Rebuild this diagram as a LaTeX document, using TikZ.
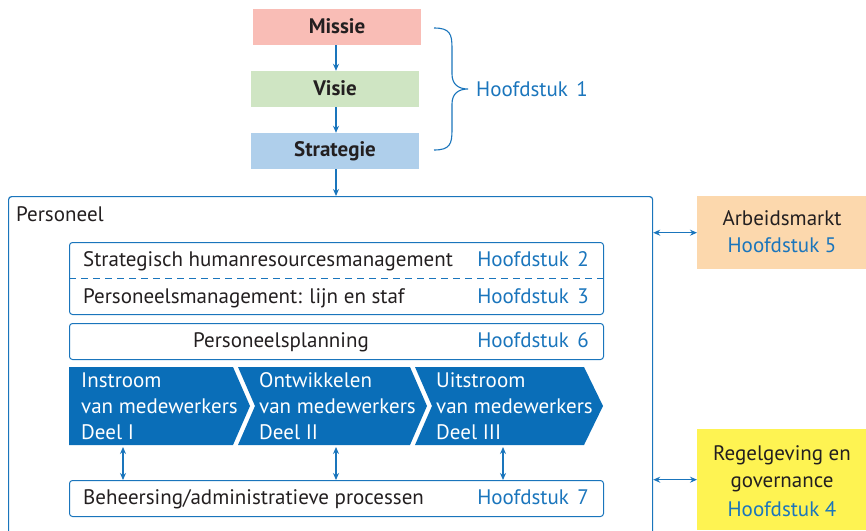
\documentclass[tikz,border=0pt]{standalone}
\usepackage{fontspec}
\setmainfont{PT Sans}
\usetikzlibrary{arrows.meta}
\definecolor{lineblue}{HTML}{1A75BC}
\definecolor{chevblue}{HTML}{0A6EB8}
\definecolor{txtdark}{HTML}{231F20}
\definecolor{missiec}{HTML}{F9BDB6}
\definecolor{visiec}{HTML}{CFE5C3}
\definecolor{stratc}{HTML}{AFCFEB}
\definecolor{arbc}{HTML}{FCD8AD}
\definecolor{regc}{HTML}{FEF352}
\newcommand{\hfd}[1]{Hoofdstuk\hspace{0.4em}#1}
\begin{document}
\begin{tikzpicture}[x=1pt,y=-1pt,
  font=\fontsize{21}{25}\selectfont,
  topbox/.style={minimum width=168pt,minimum height=36pt,inner sep=0pt},
  toptxt/.style={font=\fontsize{21}{25}\selectfont\bfseries,text=txtdark,inner sep=0pt,anchor=base},
  arr/.style={draw=lineblue,line width=1.2pt,-{Stealth[length=7pt,width=6pt]}},
  darr/.style={draw=lineblue,line width=1.2pt,{Stealth[length=7pt,width=6pt]}-{Stealth[length=7pt,width=6pt]}},
  inbox/.style={draw=lineblue,line width=1pt,rounded corners=3pt,minimum width=534pt,inner sep=0pt},
  dk/.style={text=txtdark,inner sep=0pt},
  bl/.style={text=lineblue,inner sep=0pt},
  chev/.style={fill=chevblue,draw=none},
  chevtxt/.style={text=white,inner sep=0pt,anchor=base west},
  sidebox/.style={minimum width=170pt,inner sep=0pt}]
\clip (0,0) rectangle (866,530);
\useasboundingbox (0,0) rectangle (866,530);

% top column
\node[topbox,fill=missiec] (missie) at (337,27) {};
\node[topbox,fill=visiec] (visie) at (335,89) {};
\node[topbox,fill=stratc] (strat) at (335,151) {};
\node[toptxt] (missiet) at (337,33) {Missie};
\node[toptxt] (visiet) at (335,95) {Visie};
\node[toptxt] (stratt) at (335,156) {Strategie};
\draw[arr] (missie.south -| 336,0) -- (visie.north -| 336,0);
\draw[arr] (visie.south -| 336,0) -- (strat.north -| 336,0);

% brace
\draw[lineblue,line width=1.1pt] (434,28) .. controls (450,28) and (452,34) .. (452,48) -- (452,74) .. controls (452,84) and (458,89) .. (468,89)
  .. controls (458,89) and (452,94) .. (452,104) -- (452,130) .. controls (452,144) and (450,150) .. (434,150);
\node[bl,anchor=base west] (h1) at (476,96) {\hfd{1}};

% Personeel frame
\node[draw=lineblue,line width=1.2pt,rounded corners=3pt,minimum width=644pt,minimum height=360pt,inner sep=0pt,anchor=north west] (pers) at (8,196) {};
\node[dk,anchor=base west] (perslbl) at (16,221) {Personeel};
\draw[arr] (strat.south -| 336,0) -- (pers.north -| 336,0);

% inner boxes
\node[inbox,minimum height=72pt,anchor=north west] (shrm) at (69,242) {};
\draw[lineblue,line width=1pt,dash pattern=on 7pt off 5pt] (shrm.west |- 0,278) -- (shrm.east |- 0,278);
\node[dk,anchor=base west] (t2) at (83,266) {Strategisch humanresourcesmanagement};
\node[bl,anchor=base east] (h2) at (589,266) {\hfd{2}};
\node[dk,anchor=base west] (t3) at (83,303) {Personeelsmanagement: lijn en staf};
\node[bl,anchor=base east] (h3) at (589,303) {\hfd{3}};

\node[inbox,minimum height=36pt,anchor=north west] (plan) at (69,323) {};
\node[dk,anchor=base] (t6) at (281,347) {Personeelsplanning};
\node[bl,anchor=base east] (h6) at (589,347) {\hfd{6}};

% chevrons
\fill[chev] (69,367) -- (233,367) -- (250,406) -- (233,445) -- (69,445) -- cycle;
\fill[chev] (238,367) -- (410,367) -- (427,406) -- (410,445) -- (238,445) -- (255,406) -- cycle;
\fill[chev] (415,367) -- (584,367) -- (603,406) -- (584,445) -- (415,445) -- (432,406) -- cycle;
\node[chevtxt] (c1a) at (81,387) {Instroom};
\node[chevtxt] (c1b) at (81,413) {van medewerkers};
\node[chevtxt] (c1c) at (81,439) {Deel I};
\node[chevtxt] (c2a) at (259,387) {Ontwikkelen};
\node[chevtxt] (c2b) at (259,413) {van medewerkers};
\node[chevtxt] (c2c) at (259,439) {Deel II};
\node[chevtxt] (c3a) at (436,387) {Uitstroom};
\node[chevtxt] (c3b) at (436,413) {van medewerkers};
\node[chevtxt] (c3c) at (436,439) {Deel III};

% bottom box
\node[inbox,minimum height=36pt,anchor=north west] (beh) at (69,480) {};
\node[dk,anchor=base west] (t7) at (83,504) {Beheersing/administratieve processen};
\node[bl,anchor=base east] (h7) at (589,504) {\hfd{7}};

\coordinate (a1) at (123,447);
\coordinate (a2) at (336,447);
\coordinate (a3) at (503,447);
\draw[darr] (a1) -- (a1 |- beh.north);
\draw[darr] (a2) -- (a2 |- beh.north);
\draw[darr] (a3) -- (a3 |- beh.north);

% side boxes
\node[sidebox,fill=arbc,minimum height=73pt,anchor=north west] (arb) at (697,196) {};
\node[dk,anchor=base] (arbt) at (782,225) {Arbeidsmarkt};
\node[bl,anchor=base] (h5) at (782,252) {Hoofdstuk 5};
\node[sidebox,fill=regc,minimum height=101pt,anchor=north west] (reg) at (697,429) {};
\node[dk,anchor=base] (regt1) at (782,460) {Regelgeving en};
\node[dk,anchor=base] (regt2) at (782,487) {governance};
\node[bl,anchor=base] (h4) at (782,516) {Hoofdstuk 4};

\draw[darr] (pers.east |- arb.west) -- (arb.west);
\draw[darr] (pers.east |- reg.west) -- (reg.west);
\end{tikzpicture}
\end{document}
